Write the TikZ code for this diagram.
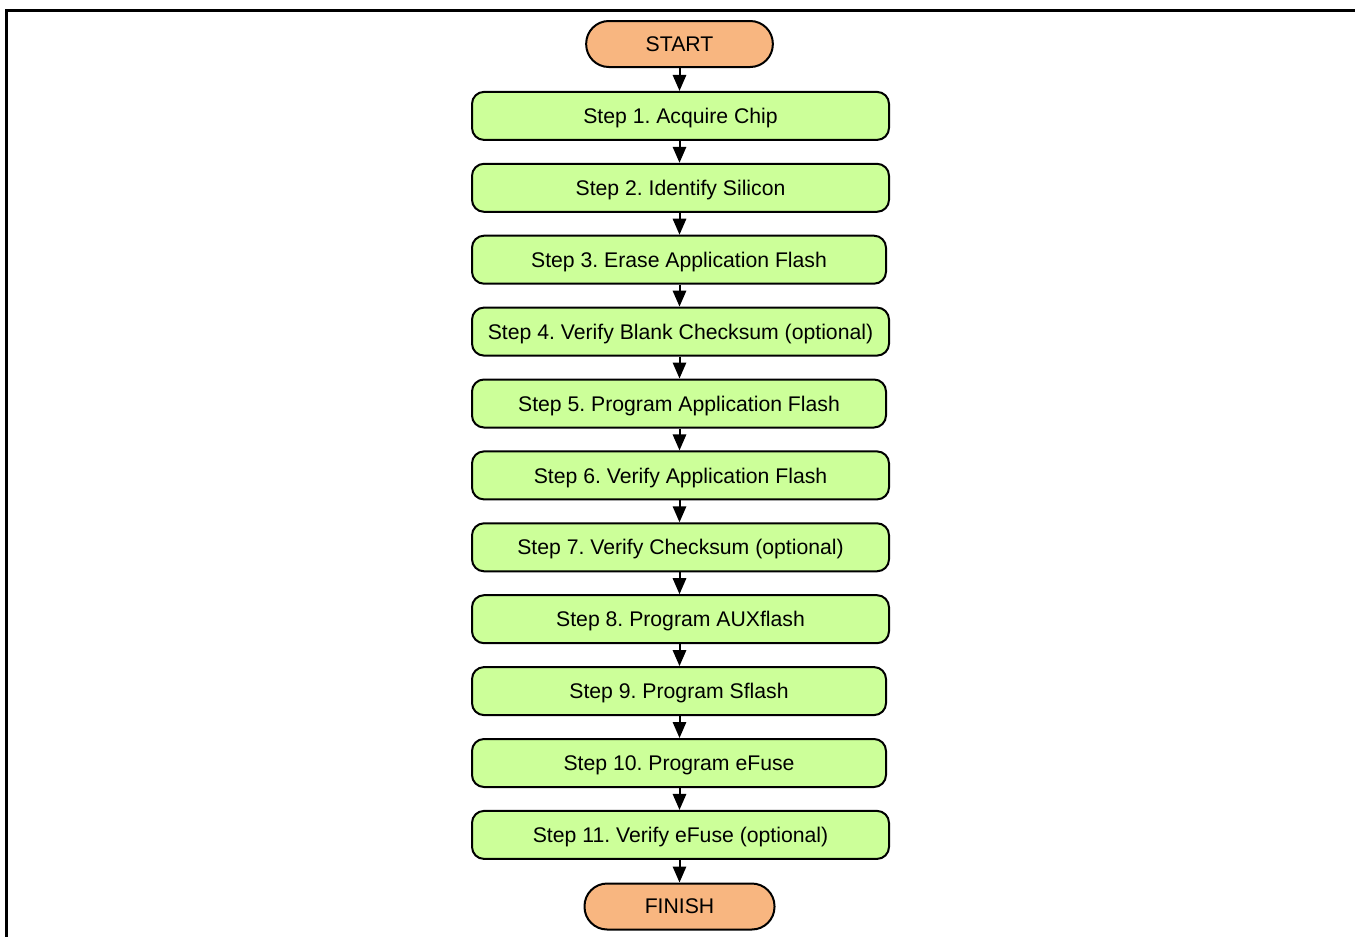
\documentclass[tikz,border=0pt]{standalone}
\usepackage{fontspec}
\setmainfont{Liberation Sans}
\usetikzlibrary{arrows.meta}
\definecolor{stepgreen}{RGB}{204,255,153}
\definecolor{termorange}{RGB}{248,182,128}
\frenchspacing
\tikzset{
  stepbox/.style={draw=black,line width=1.5pt,fill=stepgreen,rounded corners=9pt,
    minimum height=36pt,inner sep=0pt,text depth=0pt,font=\fontsize{15.9}{18}\selectfont},
  termbox/.style={stepbox,fill=termorange,rounded corners=17pt,minimum height=34.5pt},
  flow/.style={-{Triangle[width=10pt,length=12pt]},line width=1.5pt}
}
\begin{document}
\begin{tikzpicture}[x=0.75pt,y=-0.75pt]
\useasboundingbox (0,0) rectangle (1355,936);
\begin{scope}
  \draw[line width=2.25pt] (6.5,937) -- (6.5,10) -- (1356,10);
  \node[termbox,minimum width=140pt] (start) at (679.5,44) {START};
  \foreach[count=\i] \t/\w in {Step 1. Acquire Chip/417,Step 2. Identify Silicon/417,
    Step 3. Erase Application Flash/414,Step 4. Verify Blank Checksum (optional)/417,
    Step 5. Program Application Flash/414,Step 6. Verify Application Flash/417,
    Step 7. Verify Checksum (optional)/417,Step 8. Program AUXflash/417,
    Step 9. Program Sflash/414,Step 10. Program eFuse/414,
    Step 11. Verify eFuse (optional)/417}
  \node[stepbox,minimum width=0.75*\w pt,anchor=west] (s\i) at (471,44+71.9*\i) {\t};
  \node[termbox,minimum width=142.5pt] (finish) at (679.5,906.5) {FINISH};
  \foreach \a/\b in {start/s1,s1/s2,s2/s3,s3/s4,s4/s5,s5/s6,s6/s7,s7/s8,s8/s9,
    s9/s10,s10/s11,s11/finish}
  \draw[flow] (\a.south -| start) -- (\b.north -| start);
\end{scope}
\end{tikzpicture}
\end{document}
